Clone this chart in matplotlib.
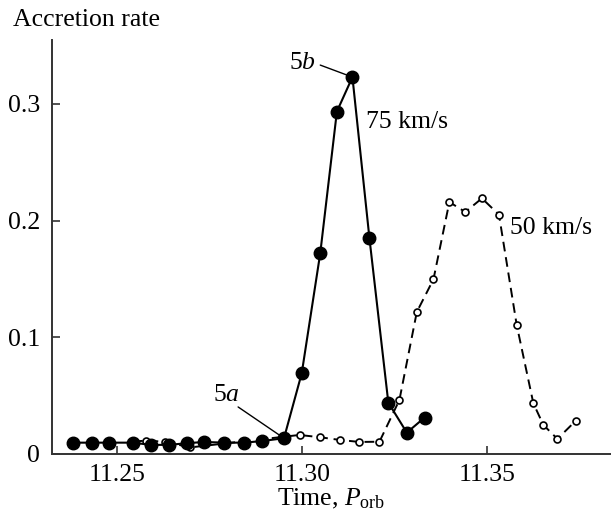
import matplotlib
matplotlib.use('Agg')
import matplotlib.pyplot as plt

plt.rcParams['font.family'] = ['Liberation Serif', 'DejaVu Serif']
plt.rcParams['mathtext.fontset'] = 'custom'
plt.rcParams['mathtext.rm'] = 'Liberation Serif'
plt.rcParams['mathtext.it'] = 'Liberation Serif:italic'

# accretion rate for the 75 km/s run (filled circles)
t75 = [11.2382, 11.2433, 11.2479, 11.2542, 11.2591, 11.2639, 11.2688, 11.2735,
       11.2790, 11.2844, 11.2892, 11.2951, 11.2999, 11.3049, 11.3094, 11.3136,
       11.3182, 11.3233, 11.3283, 11.3331]
r75 = [0.0097, 0.0097, 0.0097, 0.0097, 0.0078, 0.0078, 0.0092, 0.0103,
       0.0097, 0.0097, 0.0111, 0.0135, 0.0692, 0.1720, 0.2935, 0.3230,
       0.1848, 0.0440, 0.0183, 0.0312]

# accretion rate for the 50 km/s run (open circles)
t50 = [11.2543, 11.2578, 11.2630, 11.2697, 11.2993, 11.3049, 11.3103, 11.3155,
       11.3209, 11.3263, 11.3310, 11.3355, 11.3398, 11.3441, 11.3486, 11.3532,
       11.3580, 11.3625, 11.3652, 11.3690, 11.3739]
r50 = [0.0107, 0.0114, 0.0105, 0.0056, 0.0163, 0.0143, 0.0120, 0.0103,
       0.0105, 0.0463, 0.1217, 0.1497, 0.2159, 0.2074, 0.2191, 0.2051,
       0.1105, 0.0434, 0.0249, 0.0129, 0.0283]

fig = plt.figure(figsize=(6.11, 5.18), dpi=100)
ax = fig.add_axes([0.0851, 0.1236, 0.915, 0.7992])

ax.plot(t50, r50, ls=(0, (5, 3)), color='black', lw=1.4, marker='o', ms=5,
        mfc='white', mec='black', mew=1.2, zorder=2)
ax.plot(t75, r75, ls='-', color='black', lw=1.5, marker='o', ms=9,
        mfc='black', mec='black', zorder=3)

ax.set_xlim(11.2324, 11.3835)
ax.set_ylim(0, 0.3548)
ax.set_xticks([11.25, 11.30, 11.35])
ax.set_xticklabels(['11.25', '11.30', '11.35'])
ax.set_yticks([0, 0.1, 0.2, 0.3])
ax.set_yticklabels(['0', '0.1', '0.2', '0.3'])

for s in ['top', 'right']:
    ax.spines[s].set_visible(False)
for s in ['left', 'bottom']:
    ax.spines[s].set_linewidth(1.4)
    ax.spines[s].set_color('#333333')
ax.tick_params(direction='in', length=6, width=1.2, color='#333333',
               labelsize=18.5)
ax.tick_params(axis='x', pad=7)
ax.tick_params(axis='y', pad=8.5)

fig.text(0.021, 0.962, 'Accretion rate', fontsize=18.5, va='center', ha='left')
ax.set_xlabel(r'Time, $\mathit{P}_{\rm orb}$', fontsize=18.5, labelpad=1)

ax.text(11.3173, 0.2848, '75 km/s', fontsize=18.5, va='center', ha='left')
ax.text(11.3562, 0.1937, '50 km/s', fontsize=18.5, va='center', ha='left')

# labels for the two snapshot moments, with leader lines to their points
ax.text(11.2795, 0.0506, '5$a$', fontsize=18.5, ha='center', va='center')
ax.annotate('', xy=(t75[11], r75[11]), xytext=(11.2827, 0.0403),
            arrowprops=dict(arrowstyle='-', color='black', lw=1,
                            shrinkA=0, shrinkB=0))
ax.text(11.3001, 0.335, '5$b$', fontsize=18.5, ha='center', va='center')
ax.annotate('', xy=(t75[15], r75[15]), xytext=(11.3049, 0.3333),
            arrowprops=dict(arrowstyle='-', color='black', lw=1,
                            shrinkA=0, shrinkB=0))

fig.savefig('out.png', dpi=100)
